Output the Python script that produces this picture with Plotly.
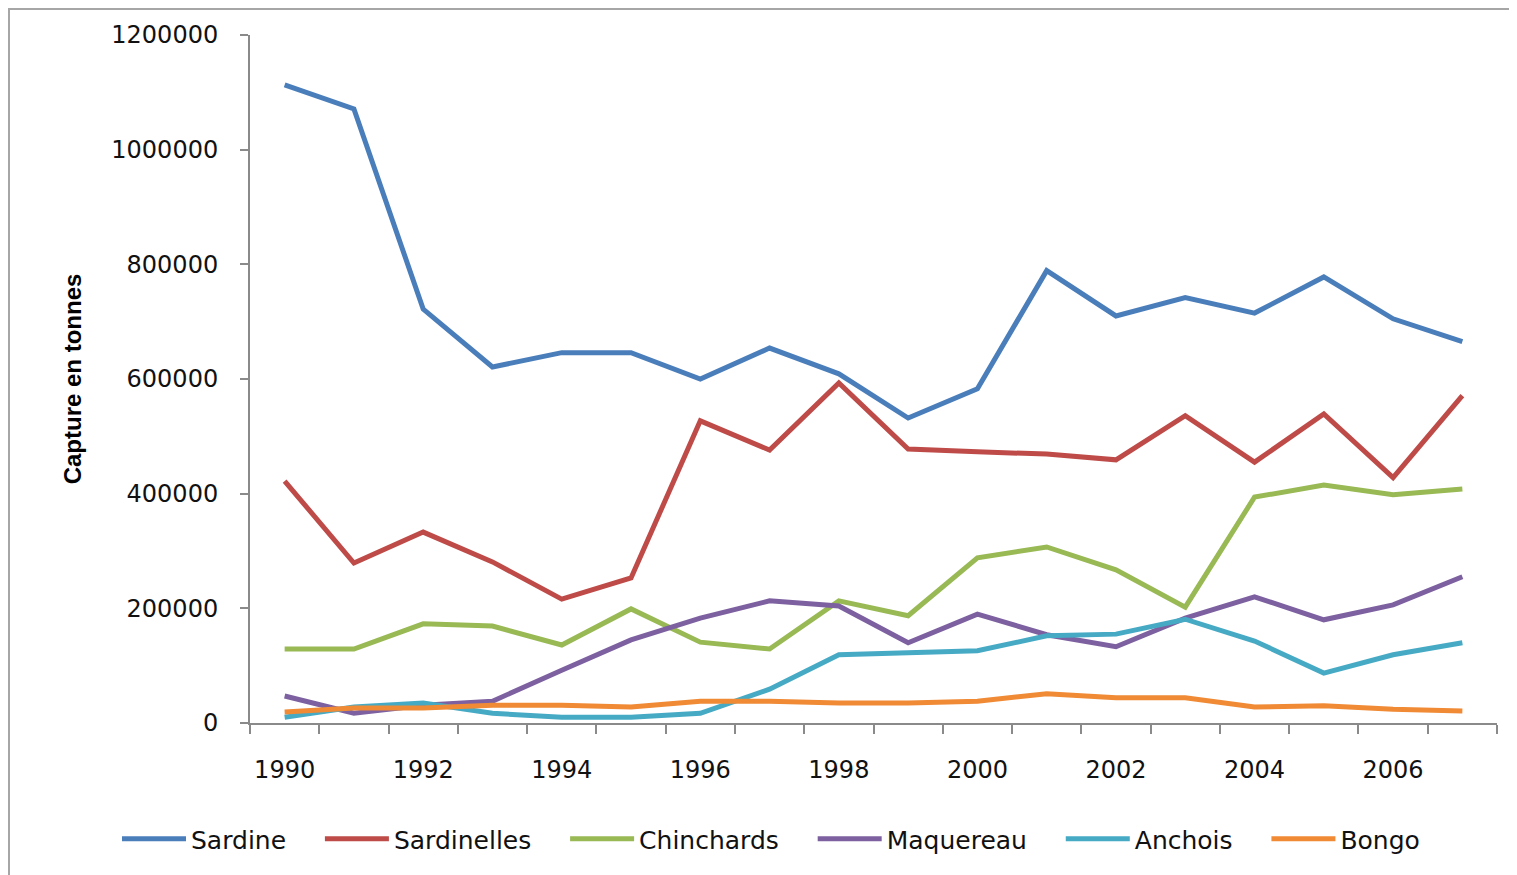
import plotly.graph_objects as go

years = list(range(1990, 2008))

sardine = [1113000, 1071000, 722000, 621000, 646000, 646000, 600000, 654000, 609000,
           532000, 583000, 789000, 710000, 742000, 715000, 778000, 705000, 665000]
sardinelles = [422000, 279000, 333000, 281000, 216000, 253000, 527000, 476000, 593000,
               478000, 473000, 469000, 459000, 536000, 455000, 539000, 428000, 571000]
chinchards = [129000, 129000, 173000, 169000, 136000, 199000, 141000, 129000, 213000,
              187000, 288000, 307000, 267000, 202000, 394000, 415000, 398000, 408000]
maquereau = [47000, 17000, 31000, 38000, 92000, 145000, 183000, 213000, 204000,
             140000, 190000, 154000, 133000, 183000, 220000, 180000, 206000, 255000]
anchois = [10000, 28000, 35000, 17000, 10000, 10000, 17000, 59000, 119000,
           122000, 126000, 152000, 155000, 181000, 143000, 87000, 119000, 140000]
bongo = [19000, 26000, 26000, 31000, 31000, 28000, 38000, 38000, 35000,
         35000, 38000, 51000, 44000, 44000, 28000, 30000, 24000, 21000]

series_names = ["Sardine", "Sardinelles", "Chinchards", "Maquereau", "Anchois", "Bongo"]
series_values = [sardine, sardinelles, chinchards, maquereau, anchois, bongo]
series_colors = ["#4A7EBB", "#BE4B48", "#98B954", "#7D60A0", "#46AAC5", "#F08A35"]

x_tick_years = [1990, 1992, 1994, 1996, 1998, 2000, 2002, 2004, 2006]
x_tick_labels = [str(y) for y in x_tick_years]
y_tick_values = [0, 200000, 400000, 600000, 800000, 1000000, 1200000]
y_tick_labels = [str(v) for v in y_tick_values]
y_title = "Capture en tonnes"

# page has an 8px body margin; figure sized to fit the 1517x875 window
OFF = 8
W, H = 1517 - OFF, 875 - OFF
L, T = 250 - OFF, 35 - OFF
pw, ph = 1247, 688
R, B = W - L - pw, H - T - ph

pad = "\u00a0\u00a0\u00a0\u2009"

fig = go.Figure()
for name, vals, col in zip(series_names, series_values, series_colors):
    fig.add_trace(go.Scatter(x=years, y=vals, name=name + pad, mode="lines",
                             line=dict(color=col, width=5)))

font = "DejaVu Sans, Verdana, sans-serif"
axcol = "#8A8A8A"
fs = 24

def px_x(p):
    return (p - OFF - L) / pw

def px_y(p):
    return (T + ph - (p - OFF)) / ph

fig.update_layout(
    width=W, height=H,
    margin=dict(l=L, r=R, t=T, b=B),
    paper_bgcolor="white", plot_bgcolor="white",
    font=dict(family=font, size=fs, color="#111111"),
    showlegend=True,
    legend=dict(orientation="h", x=px_x(117), xanchor="left",
                y=px_y(839), yanchor="middle",
                font=dict(family=font, size=25, color="#111111"),
                itemwidth=64, tracegroupgap=0),
    xaxis=dict(range=[years[0] - 0.5, years[-1] + 0.5],
               tickvals=x_tick_years, ticktext=x_tick_labels, ticks="",
               ticklabelstandoff=24,
               showgrid=False, zeroline=False,
               showline=True, linecolor=axcol, linewidth=2,
               minor=dict(tickvals=[y - 0.5 for y in years] + [years[-1] + 0.5],
                          ticks="outside", ticklen=9, tickcolor=axcol, tickwidth=2,
                          showgrid=False),
               tickfont=dict(size=fs)),
    yaxis=dict(range=[0, 1200000], tickvals=y_tick_values, ticktext=y_tick_labels,
               ticks="outside", ticklen=8, tickcolor=axcol, tickwidth=2,
               ticklabelstandoff=17,
               showgrid=False, zeroline=False,
               showline=True, linecolor=axcol, linewidth=2,
               tickfont=dict(size=fs),
               title=dict(text="<b>" + y_title + "</b>", standoff=23,
                          font=dict(family="Liberation Sans, Arial, sans-serif", size=24,
                                    color="#000000"))),
)

# outer chart frame
fig.add_shape(type="rect", xref="paper", yref="paper",
              x0=px_x(9), x1=px_x(1545),
              y0=px_y(900), y1=px_y(9),
              line=dict(color="#A6A6A6", width=2), fillcolor="rgba(0,0,0,0)", layer="below")

fig.write_html("out.html")
